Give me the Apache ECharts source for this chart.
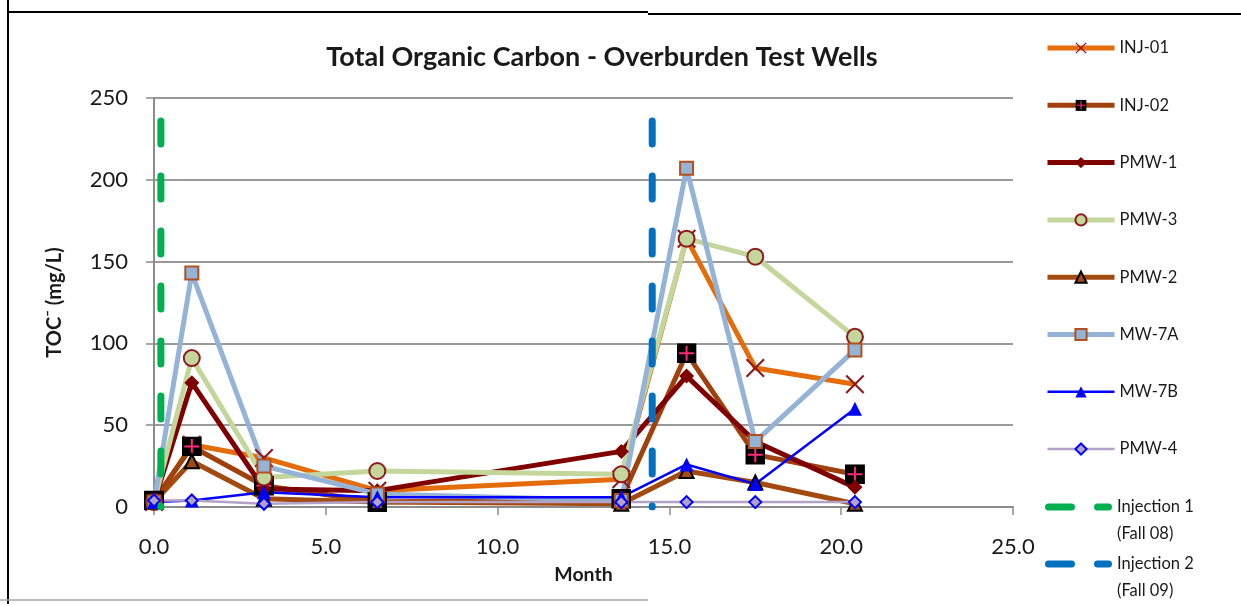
<!DOCTYPE html>
<html>
<head>
<meta charset="utf-8">
<title>Total Organic Carbon - Overburden Test Wells</title>
<script src="https://cdn.jsdelivr.net/npm/echarts@6/dist/echarts.min.js"></script>
<style>
  html, body { margin: 0; padding: 0; background: #fff; }
  #chart { width: 1241px; height: 604px; }
</style>
</head>
<body>
<div id="chart"></div>
<script>
// Sampling months (months since start of monitoring)
const months = [0, 1.1, 3.2, 6.5, 13.6, 15.5, 17.5, 20.4];

// TOC concentrations (mg/L) for each well, one value per sampling month
const inj01 = [3, 38, 30, 10, 17, 164, 85, 75];
const inj02 = [4, 37, 13, 3, 5, 94, 32, 20];
const pmw1  = [3, 76, 11, 10, 34, 80, 40, 12];
const pmw3  = [3, 91, 18, 22, 20, 164, 153, 104];
const pmw2  = [3, 28, 5, 3, 2, 22, 15, 2];
const mw7a  = [3, 143, 25, 8, 4, 207, 40, 96];
const mw7b  = [3, 4, 9, 6, 6, 26, 14, 60];
const pmw4  = [4, 4, 2, 3, 3, 3, 3, 3];

// Injection events: month and top of the marker line (mg/L)
const injection1 = { month: 0.2, top: 236 };
const injection2 = { month: 14.5, top: 236 };

const xTicks = { min: 0, max: 25, step: 5 };
const yTicks = { min: 0, max: 250, step: 50 };

const FONT = 'Lato, "Open Sans", sans-serif';

function pairs(values) {
  return months.map((m, i) => [m, values[i]]);
}

// Black square with a pink cross for INJ-02
const squareCross = 'image://data:image/svg+xml;charset=utf-8,' + encodeURIComponent(
  "<svg xmlns='http://www.w3.org/2000/svg' width='20' height='20' viewBox='0 0 20 20'>" +
  "<rect x='0' y='0' width='20' height='20' fill='#000'/>" +
  "<path d='M10 2.5V17.5M2.5 10H17.5' stroke='#FF2A78' stroke-width='2'/></svg>");

// Thin "x" cross used by INJ-01
const xMark = 'path://M0,1.6L1.6,0L10,8.4L18.4,0L20,1.6L11.6,10L20,18.4L18.4,20L10,11.6L1.6,20L0,18.4L8.4,10Z';

// Legend key for the injection lines: two rounded dashes
const dashKey = 'path://M3.5,0H26.5A3.5,3.5 0 0 1 26.5,7H3.5A3.5,3.5 0 0 1 3.5,0Z' +
                'M52.5,0H63.5A3.5,3.5 0 0 1 63.5,7H52.5A3.5,3.5 0 0 1 52.5,0Z';

function wellSeries(name, values, line, width, symbol, size, fill, border, borderWidth) {
  return {
    name: name,
    type: 'line',
    data: pairs(values),
    symbol: symbol,
    symbolSize: size,
    showAllSymbol: true,
    lineStyle: { color: line, width: width },
    itemStyle: { color: fill, borderColor: border, borderWidth: borderWidth },
    emphasis: { disabled: true },
    z: 3
  };
}

function injectionSeries(name, ev, color) {
  return {
    name: name,
    type: 'line',
    data: [[ev.month, ev.top], [ev.month, 0]],
    symbol: 'none',
    lineStyle: { color: color, width: 7, type: [23, 32], cap: 'round' },
    itemStyle: { color: color },
    emphasis: { disabled: true },
    z: 4
  };
}

const series = [
  wellSeries('INJ-01', inj01, '#E46C0A', 5, xMark, 19, '#8E1B1B', '#8E1B1B', 0),
  wellSeries('INJ-02', inj02, '#A0410D', 5, squareCross, 20, '#000', '#000', 0),
  wellSeries('PMW-1', pmw1, '#800000', 5, 'diamond', 15, '#800000', '#800000', 0),
  wellSeries('PMW-3', pmw3, '#C3D69B', 5, 'circle', 16, '#C3D69B', '#8E1B1B', 2),
  wellSeries('PMW-2', pmw2, '#A34A10', 5, 'triangle', 14, '#A34A10', '#000', 2),
  wellSeries('MW-7A', mw7a, '#95B3D7', 5, 'rect', 13, '#95B3D7', '#B4501E', 2),
  wellSeries('MW-7B', mw7b, '#0000FF', 2.5, 'triangle', 14, '#0000FF', '#0000FF', 0),
  wellSeries('PMW-4', pmw4, '#B3A2C7', 2.5, 'diamond', 12, '#B3A2C7', '#0000FF', 2),
  injectionSeries('Injection 1', injection1, '#00B050'),
  injectionSeries('Injection 2', injection2, '#0070C0')
];

const legendText = { fontFamily: FONT, fontSize: 16.5, color: '#1a1a1a', lineHeight: 20 };
const injText = { fontFamily: FONT, fontSize: 16.5, color: '#1a1a1a', lineHeight: 27 };

const option = {
  animation: false,
  backgroundColor: '#fff',
  title: {
    text: 'Total Organic Carbon - Overburden Test Wells',
    left: 597,
    top: 39,
    textAlign: 'center',
    textStyle: { fontFamily: FONT, fontSize: 27, fontWeight: 'bold', color: '#1a1a1a' }
  },
  legend: [
    {
      orient: 'vertical',
      left: 1040,
      top: 33,
      itemWidth: 67,
      itemHeight: 14,
      itemGap: 37.3,
      data: ['INJ-01', 'INJ-02', 'PMW-1', 'PMW-3', 'PMW-2', 'MW-7A', 'MW-7B', 'PMW-4'],
      textStyle: legendText,
      lineStyle: { width: 'inherit' },
      selectedMode: false
    },
    {
      orient: 'vertical',
      left: 1040,
      top: 461.5,
      itemWidth: 67,
      itemHeight: 7,
      data: [{ name: 'Injection 1', icon: dashKey }],
      formatter: () => ' \nInjection 1\n(Fall 08)',
      textStyle: injText,
      selectedMode: false
    },
    {
      orient: 'vertical',
      left: 1040,
      top: 518.5,
      itemWidth: 67,
      itemHeight: 7,
      data: [{ name: 'Injection 2', icon: dashKey }],
      formatter: () => ' \nInjection 2\n(Fall 09)',
      textStyle: injText,
      selectedMode: false
    }
  ],
  grid: { left: 154, right: 228, top: 98, bottom: 97, containLabel: false },
  xAxis: {
    type: 'value',
    min: xTicks.min,
    max: xTicks.max,
    interval: xTicks.step,
    name: 'Month',
    nameLocation: 'middle',
    nameGap: 58,
    nameTextStyle: { fontFamily: FONT, fontSize: 19.5, fontWeight: 'bold', color: '#1a1a1a' },
    axisLine: { lineStyle: { color: '#8c8c8c', width: 2 } },
    axisTick: { show: true, length: 8, lineStyle: { color: '#8c8c8c', width: 1.5 } },
    axisLabel: {
      margin: 29,
      fontFamily: FONT, fontSize: 22, color: '#1a1a1a',
      formatter: v => v.toFixed(1)
    },
    splitLine: { show: false }
  },
  yAxis: {
    type: 'value',
    min: yTicks.min,
    max: yTicks.max,
    interval: yTicks.step,
    name: 'TOC\u207B (mg/L)',
    nameLocation: 'middle',
    nameGap: 89,
    nameRotate: 90,
    nameTextStyle: { fontFamily: FONT, fontSize: 20, fontWeight: 'bold', color: '#1a1a1a' },
    axisLine: { show: true, lineStyle: { color: '#8c8c8c', width: 2 } },
    axisTick: { show: true, length: 8, lineStyle: { color: '#8c8c8c', width: 1.5 } },
    axisLabel: { margin: 26, fontFamily: FONT, fontSize: 22, color: '#1a1a1a' },
    splitLine: { show: true, lineStyle: { color: '#9a9a9a', width: 2 } }
  },
  graphic: [
    { type: 'line', shape: { x1: 8, y1: 0, x2: 8, y2: 604 }, style: { stroke: '#000', lineWidth: 2 }, silent: true },
    { type: 'line', shape: { x1: 8, y1: 12, x2: 648, y2: 12 }, style: { stroke: '#000', lineWidth: 2 }, silent: true },
    { type: 'line', shape: { x1: 648, y1: 14, x2: 1241, y2: 14 }, style: { stroke: '#000', lineWidth: 2 }, silent: true },
    { type: 'line', shape: { x1: 0, y1: 600, x2: 648, y2: 600 }, style: { stroke: '#a6a6a6', lineWidth: 1.5 }, silent: true }
  ],
  series: series
};

const chart = echarts.init(document.getElementById('chart'), null, { renderer: 'canvas' });
chart.setOption(option);
</script>
</body>
</html>
